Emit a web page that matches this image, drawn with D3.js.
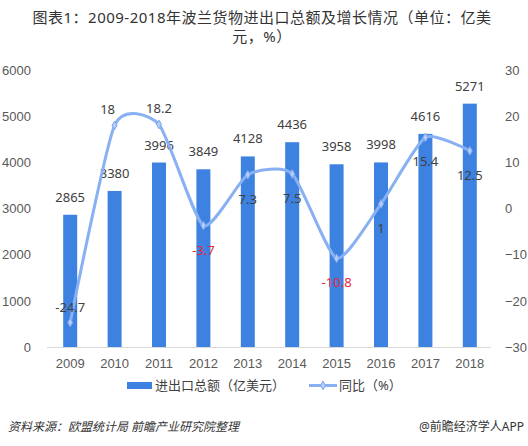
<!DOCTYPE html>
<html>
<head>
<meta charset="utf-8">
<script src="https://cdn.jsdelivr.net/npm/d3@7"></script>
<style>
  body { margin: 0; background: #fff; }
  svg { font-family: "Noto Sans", "Noto Sans CJK SC", sans-serif; }
</style>
</head>
<body>
<svg id="chart" width="528" height="446"></svg>
<script>
const years = ['2009', '2010', '2011', '2012', '2013', '2014', '2015', '2016', '2017', '2018'];
const totals = [2865, 3380, 3996, 3849, 4128, 4436, 3958, 3998, 4616, 5271];
const growth = [-24.7, 18, 18.2, -3.7, 7.3, 7.5, -10.8, 1, 15.4, 12.5];
const leftTicks = [0, 1000, 2000, 3000, 4000, 5000, 6000];
const rightTicks = [-30, -20, -10, 0, 10, 20, 30];
const titleLines = ['图表1：2009-2018年波兰货物进出口总额及增长情况（单位：亿美', '元，%）'];

const barColor = '#3d82e0';
const lineColor = '#88b0f2';
const textColor = '#404040';

const svg = d3.select('#chart');

const x = d3.scaleBand()
  .domain(years)
  .range([48, 492])
  .paddingInner(0.685)
  .paddingOuter(0.3425);

const yLeft = d3.scaleLinear().domain([0, 6000]).range([347, 70]);
const yRight = d3.scaleLinear().domain([-30, 30]).range([347, 70]);
const cx = d => x(d) + x.bandwidth() / 2;

// title, two lines
svg.selectAll('.title')
  .data(titleLines)
  .join('text')
  .attr('class', 'title')
  .attr('x', 262)
  .attr('y', (d, i) => 23 + i * 19)
  .attr('text-anchor', 'middle')
  .attr('fill', '#333')
  .style('font-size', '15px')
  .style('letter-spacing', '0.5px')
  .text(d => d);

// left axis
svg.append('g')
  .attr('transform', 'translate(31,0)')
  .call(d3.axisLeft(yLeft).tickValues(leftTicks).tickFormat(d3.format('d')).tickSize(0).tickPadding(0))
  .call(g => g.select('.domain').remove())
  .call(g => g.selectAll('text').attr('fill', '#595959').style('font-size', '13px'));

// right axis
svg.append('g')
  .attr('transform', 'translate(505,0)')
  .call(d3.axisRight(yRight).tickValues(rightTicks).tickSize(0).tickPadding(0))
  .call(g => g.select('.domain').remove())
  .call(g => g.selectAll('text').attr('fill', '#595959').style('font-size', '13px'));

// x axis
svg.append('g')
  .attr('transform', 'translate(0,347)')
  .call(d3.axisBottom(x).tickSize(0).tickPadding(12))
  .call(g => g.select('.domain').attr('stroke', '#d9d9d9').attr('d', 'M47,0.5H491'))
  .call(g => g.selectAll('text').attr('fill', '#595959').style('font-size', '13px'));

// bars
svg.append('g')
  .selectAll('rect')
  .data(years)
  .join('rect')
  .attr('x', d => x(d))
  .attr('y', (d, i) => yLeft(totals[i]))
  .attr('width', x.bandwidth())
  .attr('height', (d, i) => yLeft(0) - yLeft(totals[i]))
  .attr('fill', barColor);

svg.append('g')
  .selectAll('text')
  .data(years)
  .join('text')
  .attr('x', d => cx(d))
  .attr('y', (d, i) => yLeft(totals[i]) - 13)
  .attr('text-anchor', 'middle')
  .attr('fill', textColor)
  .style('font-size', '13px')
  .text((d, i) => totals[i]);

// growth line
const pts = years.map((d, i) => [cx(d), yRight(growth[i])]);
svg.append('path')
  .attr('d', d3.line().curve(d3.curveCardinal.tension(0.4))(pts))
  .attr('fill', 'none')
  .attr('stroke', lineColor)
  .attr('stroke-width', 3);

svg.append('g')
  .selectAll('path')
  .data(pts)
  .join('path')
  .attr('transform', p => `translate(${p[0]},${p[1]})`)
  .attr('d', d3.symbol(d3.symbolDiamond, 22))
  .attr('fill', '#b3cdf6')
  .attr('stroke', '#7aa7ef')
  .attr('stroke-width', 1);

const aboveLabels = ['2009', '2010', '2011'];
const redLabels = ['2012', '2015'];
svg.append('g')
  .selectAll('text')
  .data(years)
  .join('text')
  .attr('x', (d, i) => d === '2010' ? pts[i][0] - 7 : pts[i][0])
  .attr('y', (d, i) => aboveLabels.includes(d) ? pts[i][1] - 11 : pts[i][1] + 29)
  .attr('text-anchor', 'middle')
  .attr('fill', d => redLabels.includes(d) ? '#e8253a' : textColor)
  .style('font-size', '13px')
  .text((d, i) => growth[i]);

// legend
const legend = svg.append('g').style('font-size', '13px').attr('fill', textColor);
legend.append('rect').attr('x', 127).attr('y', 382).attr('width', 25).attr('height', 7).attr('fill', barColor);
legend.append('text').attr('x', 155).attr('y', 390).text('进出口总额（亿美元）');
legend.append('line').attr('x1', 309).attr('x2', 337).attr('y1', 385.5).attr('y2', 385.5)
  .attr('stroke', lineColor).attr('stroke-width', 3);
legend.append('path').attr('transform', 'translate(323,385.5)')
  .attr('d', d3.symbol(d3.symbolDiamond, 22))
  .attr('fill', '#b3cdf6').attr('stroke', '#7aa7ef');
legend.append('text').attr('x', 339).attr('y', 390).text('同比（%）');

// footer
svg.append('text')
  .attr('x', 8).attr('y', 431)
  .attr('fill', '#333')
  .style('font-size', '12px')
  .style('font-style', 'italic')
  .text('资料来源：欧盟统计局 前瞻产业研究院整理');

svg.append('text')
  .attr('x', 524).attr('y', 431)
  .attr('text-anchor', 'end')
  .attr('fill', '#333')
  .style('font-size', '12px')
  .text('@前瞻经济学人APP');
</script>
</body>
</html>
